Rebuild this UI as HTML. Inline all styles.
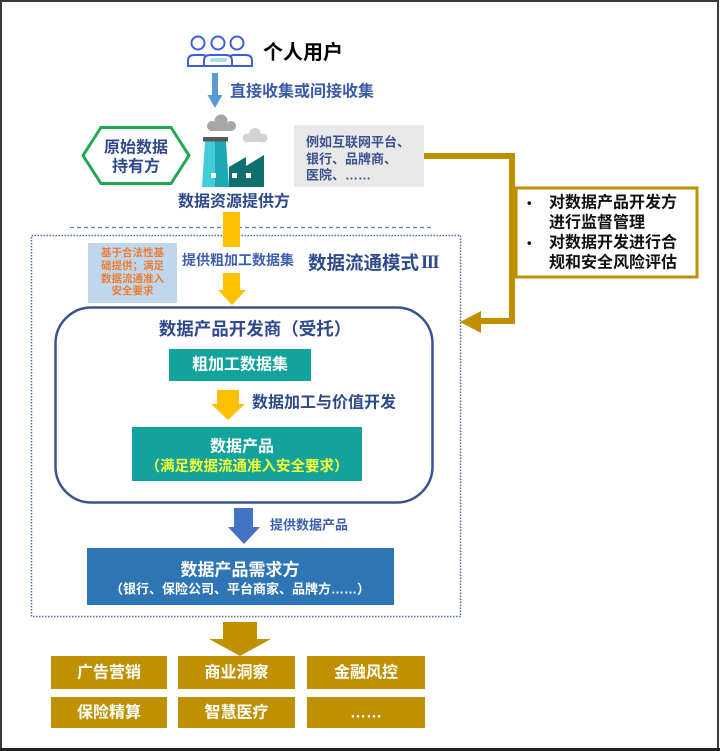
<!DOCTYPE html>
<html><head><meta charset="utf-8">
<style>
html,body{margin:0;padding:0;background:#fff;}
#wrap{position:relative;width:720px;height:751px;overflow:hidden;}
svg{position:absolute;left:0;top:0;}
text{font-family:"Liberation Sans","Noto Sans CJK SC",sans-serif;font-weight:bold;}
</style></head>
<body><div id="wrap">
<svg width="720" height="751" viewBox="0 0 720 751" xmlns="http://www.w3.org/2000/svg">
<!-- outer frame -->
<rect x="1" y="1" width="717" height="748" fill="none" stroke="#3a3a3a" stroke-width="2"/>
<line x1="0" y1="749.5" x2="720" y2="749.5" stroke="#222" stroke-width="3"/>

<!-- people icon -->
<g fill="#fff" stroke="#3a5fd9" stroke-width="2">
<path d="M188,66 V61 Q188,55 194,55 H202 Q208,55 208,61 V66 Z"/>
<path d="M228,66 V61 Q228,55 234,55 H246 Q252,55 252,61 V66 Z"/>
<path d="M204,66 V61 Q204,55 210,55 H226 Q232,55 232,61 V66 Z"/>
<circle cx="198" cy="43" r="6.5"/>
<circle cx="218" cy="43" r="6.5"/>
<circle cx="237" cy="43" r="6.5"/>
</g>
<rect x="210" y="58" width="17" height="4" rx="2" fill="#a9dcf2"/>
<text x="263" y="53" font-size="20" fill="#000" dominant-baseline="central">个人用户</text>

<!-- blue down arrow -->
<rect x="212" y="73" width="6" height="23" fill="#5b9bd5"/>
<polygon points="207.5,95 222.5,95 215,108" fill="#5b9bd5"/>
<text x="230" y="92" font-size="16" fill="#3a5ba5" dominant-baseline="central">直接收集或间接收集</text>

<!-- hexagon -->
<polygon points="83,155.5 101,127.5 171,127.5 189,155.5 171,183.5 101,183.5" fill="#fff" stroke="#1faa4e" stroke-width="3"/>
<text x="136" y="148" font-size="16" fill="#2f4a8c" text-anchor="middle" dominant-baseline="central">原始数据</text>
<text x="136" y="167" font-size="16" fill="#2f4a8c" text-anchor="middle" dominant-baseline="central">持有方</text>

<!-- factory icon -->
<g>
<circle cx="221" cy="121" r="6.5" fill="#a6a6a6"/>
<circle cx="212" cy="126" r="5" fill="#a6a6a6"/>
<circle cx="231" cy="126" r="5" fill="#a6a6a6"/>
<rect x="210" y="124" width="22" height="7" fill="#a6a6a6"/>
<circle cx="255" cy="134" r="6" fill="#d3d3d3"/>
<circle cx="247" cy="138" r="4.5" fill="#d3d3d3"/>
<circle cx="263" cy="138" r="4.5" fill="#d3d3d3"/>
<rect x="247" y="137" width="17" height="5" fill="#d3d3d3"/>
<rect x="203" y="137" width="25" height="4.5" fill="#595959"/>
<polygon points="205,141.5 215,141.5 215,187 202,187" fill="#40ccd8"/>
<polygon points="215,141.5 226,141.5 229,187 215,187" fill="#1ba9b6"/>
<polygon points="229,187 229,167 246,157 246,166 264,155 264,187" fill="#0f6e6e"/>
<rect x="211" y="173" width="5" height="5" fill="#fff"/>
<rect x="232" y="173" width="5" height="5" fill="#fff"/>
<rect x="246" y="173" width="5" height="5" fill="#fff"/>
</g>
<text x="234" y="202" font-size="16" fill="#2f4a8c" text-anchor="middle" dominant-baseline="central">数据资源提供方</text>

<!-- gray box -->
<rect x="294" y="125" width="130" height="62" fill="#e8e8e8"/>
<text x="306" y="142" font-size="13" fill="#3a5290" dominant-baseline="central">例如互联网平台、</text>
<text x="306" y="159" font-size="13" fill="#3a5290" dominant-baseline="central">银行、品牌商、</text>
<text x="306" y="175" font-size="13" fill="#3a5290" dominant-baseline="central">医院、……</text>

<!-- gold connector -->
<path d="M424,156 H512 V321 H478" fill="none" stroke="#bf9000" stroke-width="6"/>
<polygon points="460,322 481,311 481,333" fill="#bf9000"/>

<!-- gold outlined box -->
<rect x="516" y="188" width="181" height="89" fill="#fff" stroke="#bf9000" stroke-width="3"/>
<g font-size="16" fill="#111">
<text x="527" y="203" dominant-baseline="central" font-size="13">•</text>
<text x="549" y="203" dominant-baseline="central">对数据产品开发方</text>
<text x="549" y="223" dominant-baseline="central">进行监督管理</text>
<text x="527" y="243" dominant-baseline="central" font-size="13">•</text>
<text x="549" y="243" dominant-baseline="central">对数据开发进行合</text>
<text x="549" y="263" dominant-baseline="central">规和安全风险评估</text>
</g>

<!-- dashed line -->
<line x1="70" y1="227.5" x2="432" y2="227.5" stroke="#5b7fc0" stroke-width="1.2" stroke-dasharray="4,3"/>
<!-- dotted box -->
<rect x="31.5" y="235.5" width="429" height="381" fill="none" stroke="#4a6fa5" stroke-width="1.5" stroke-dasharray="1.5,1.5"/>

<!-- yellow arrows top -->
<rect x="223" y="212" width="17" height="35" fill="#ffc000"/>
<rect x="223" y="273" width="17" height="18" fill="#ffc000"/>
<polygon points="218,290 246,290 232,305" fill="#ffc000"/>
<text x="182" y="260" font-size="14" fill="#3d5fb0" dominant-baseline="central">提供粗加工数据集</text>
<text x="308" y="263" font-size="18.5" fill="#2f4a8c" dominant-baseline="central">数据流通模式<tspan font-family="'Liberation Serif',serif" font-weight="bold" letter-spacing="-1.5" dx="2">III</tspan></text>

<!-- light blue note -->
<rect x="88" y="243" width="89" height="60" fill="#c0d6ec"/>
<g font-size="10.5" fill="#ed7d31" text-anchor="middle">
<text x="132.5" y="253" dominant-baseline="central">基于合法性基</text>
<text x="132.5" y="266" dominant-baseline="central">础提供；满足</text>
<text x="132.5" y="279" dominant-baseline="central">数据流通准入</text>
<text x="132.5" y="291" dominant-baseline="central">安全要求</text>
</g>

<!-- rounded developer box -->
<rect x="55.5" y="307.5" width="377" height="195" rx="36" ry="36" fill="#fff" stroke="#3b5491" stroke-width="2.5"/>
<text x="255" y="329" font-size="17.5" fill="#2f4a8c" text-anchor="middle" dominant-baseline="central">数据产品开发商（受托）</text>
<rect x="169" y="349" width="142" height="32" fill="#12a39c"/>
<text x="240" y="365" font-size="16" fill="#fff" text-anchor="middle" dominant-baseline="central">粗加工数据集</text>
<rect x="217" y="390" width="22" height="15" fill="#ffc000"/>
<polygon points="211,404 245,404 228,420" fill="#ffc000"/>
<text x="252" y="403" font-size="16" fill="#2f4a8c" dominant-baseline="central">数据加工与价值开发</text>
<rect x="132" y="427" width="230" height="54" fill="#12a39c"/>
<text x="242" y="447" font-size="16" fill="#fff" text-anchor="middle" dominant-baseline="central">数据产品</text>
<text x="247" y="467" font-size="14.5" fill="#f5ff3a" text-anchor="middle" dominant-baseline="central">（满足数据流通准入安全要求）</text>

<!-- blue arrow -->
<rect x="234" y="508" width="19" height="20" fill="#4472c4"/>
<polygon points="228,527 260,527 244,544" fill="#4472c4"/>
<text x="270" y="525" font-size="13" fill="#3d5fb0" dominant-baseline="central">提供数据产品</text>

<!-- demand box -->
<rect x="87" y="548" width="307" height="57" fill="#2e75b6"/>
<text x="240" y="570" font-size="17" fill="#fff" text-anchor="middle" dominant-baseline="central">数据产品需求方</text>
<text x="240" y="589" font-size="13" fill="#fff" text-anchor="middle" dominant-baseline="central">（银行、保险公司、平台商家、品牌方……）</text>

<!-- gold arrow -->
<rect x="223" y="622" width="34" height="18" fill="#bf9000"/>
<polygon points="209,639 271,639 240,656" fill="#bf9000"/>

<!-- gold boxes -->
<g fill="#bf9000">
<rect x="51" y="656" width="116" height="33"/>
<rect x="178" y="656" width="117" height="33"/>
<rect x="307" y="656" width="118" height="33"/>
<rect x="51" y="697" width="116" height="31"/>
<rect x="178" y="697" width="117" height="31"/>
<rect x="307" y="697" width="118" height="31"/>
</g>
<g font-size="16" fill="#fff" text-anchor="middle">
<text x="109" y="673" dominant-baseline="central">广告营销</text>
<text x="236.5" y="673" dominant-baseline="central">商业洞察</text>
<text x="366" y="673" dominant-baseline="central">金融风控</text>
<text x="109" y="713" dominant-baseline="central">保险精算</text>
<text x="236.5" y="713" dominant-baseline="central">智慧医疗</text>
<text x="366" y="713" dominant-baseline="central">……</text>
</g>
</svg>
</div></body></html>
